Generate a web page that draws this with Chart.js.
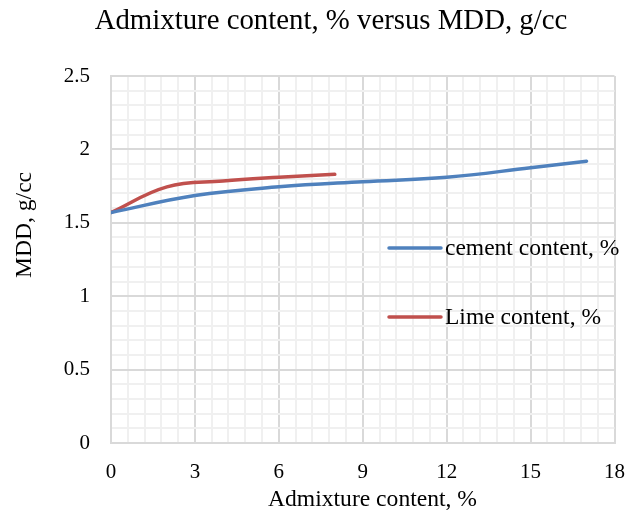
<!DOCTYPE html>
<html>
<head>
<meta charset="utf-8">
<script src="https://cdn.jsdelivr.net/npm/chart.js@4"></script>
<style>
html,body{margin:0;padding:0;background:#fff;}
#wrap{width:642px;height:510px;position:relative;}
</style>
</head>
<body>
<div id="wrap"><canvas id="c" width="642" height="510"></canvas></div>
<script>
const chartTitle = "Admixture content, % versus MDD, g/cc";
const xTitle = "Admixture content, %";
const yTitle = "MDD, g/cc";
const seriesNames = ["cement content, %", "Lime content, %"];
const cementX = [0, 3, 6, 9, 12, 15, 17];
const cementY = [1.57, 1.686, 1.745, 1.78, 1.81, 1.875, 1.92];
const limeX = [0, 2, 4, 6, 8];
const limeY = [1.57, 1.745, 1.785, 1.81, 1.83];
const xTickLabels = ["0", "3", "6", "9", "12", "15", "18"];
const yTickLabels = ["0", "0.5", "1", "1.5", "2", "2.5"];

const SERIF = "'Liberation Serif', 'Times New Roman', serif";
const isMult = (v, m) => Math.abs(v / m - Math.round(v / m)) < 1e-6;

const textPlugin = {
  id: 'texts',
  afterDraw(chart) {
    const ctx = chart.ctx;
    const ca = chart.chartArea;
    ctx.save();
    ctx.fillStyle = '#000';
    // title
    ctx.font = '28.8px ' + SERIF;
    ctx.textAlign = 'center';
    ctx.textBaseline = 'alphabetic';
    ctx.fillText(chartTitle, 331, 29);
    // x title
    ctx.font = '23.6px ' + SERIF;
    ctx.fillText(xTitle, 372.5, 506);
    // y title
    ctx.save();
    ctx.translate(31, 225);
    ctx.rotate(-Math.PI / 2);
    ctx.fillText(yTitle, 0, 0);
    ctx.restore();
    // legend
    const ys = [248, 317];
    ctx.font = '23.5px ' + SERIF;
    ctx.textAlign = 'left';
    ctx.textBaseline = 'middle';
    chart.data.datasets.forEach((ds, i) => {
      ctx.strokeStyle = ds.borderColor;
      ctx.lineWidth = 3.5;
      ctx.lineCap = 'round';
      ctx.beginPath();
      ctx.moveTo(389, ys[i]);
      ctx.lineTo(441, ys[i]);
      ctx.stroke();
      ctx.fillStyle = '#000';
      ctx.fillText(ds.label, 445, ys[i] + 1);
    });
    ctx.restore();
  }
};

new Chart(document.getElementById('c'), {
  type: 'line',
  data: {
    datasets: [
      {
        label: seriesNames[0],
        data: cementX.map((x, i) => ({ x: x, y: cementY[i] })),
        borderColor: '#4F81BD',
        backgroundColor: '#4F81BD',
        borderWidth: 3.5,
        pointRadius: 0,
        tension: 0.4,
        borderCapStyle: 'round'
      },
      {
        label: seriesNames[1],
        data: limeX.map((x, i) => ({ x: x, y: limeY[i] })),
        borderColor: '#C0504D',
        backgroundColor: '#C0504D',
        borderWidth: 3.5,
        pointRadius: 0,
        tension: 0.4,
        borderCapStyle: 'round'
      }
    ]
  },
  options: {
    responsive: false,
    animation: false,
    layout: { padding: { left: 0, right: 23, top: 76, bottom: 0 } },
    plugins: {
      legend: { display: false },
      title: { display: false },
      tooltip: { enabled: false }
    },
    scales: {
      x: {
        type: 'linear',
        min: 0,
        max: 18,
        ticks: {
          stepSize: 0.6,
          autoSkip: false,
          maxRotation: 0,
          padding: 17,
          color: '#000',
          font: { family: SERIF, size: 21 },
          callback: (v) => isMult(v, 3) ? xTickLabels[Math.round(v / 3)] : ''
        },
        grid: {
          drawTicks: false,
          color: (c) => isMult(c.tick.value, 3) ? '#d9d9d9' : '#f0f0f0',
          lineWidth: 2
        },
        border: { color: '#d9d9d9', width: 2 },
        afterFit: (s) => { s.height = 67; }
      },
      y: {
        type: 'linear',
        min: 0,
        max: 2.5,
        ticks: {
          stepSize: 0.1,
          autoSkip: false,
          padding: 21,
          color: '#000',
          font: { family: SERIF, size: 21 },
          callback: (v) => isMult(v, 0.5) ? yTickLabels[Math.round(v / 0.5)] : ''
        },
        grid: {
          drawTicks: false,
          color: (c) => isMult(c.tick.value, 0.5) ? '#d9d9d9' : '#f0f0f0',
          lineWidth: 2
        },
        border: { color: '#d9d9d9', width: 2 },
        afterFit: (s) => { s.width = 111; }
      }
    }
  },
  plugins: [textPlugin]
});
</script>
</body>
</html>
